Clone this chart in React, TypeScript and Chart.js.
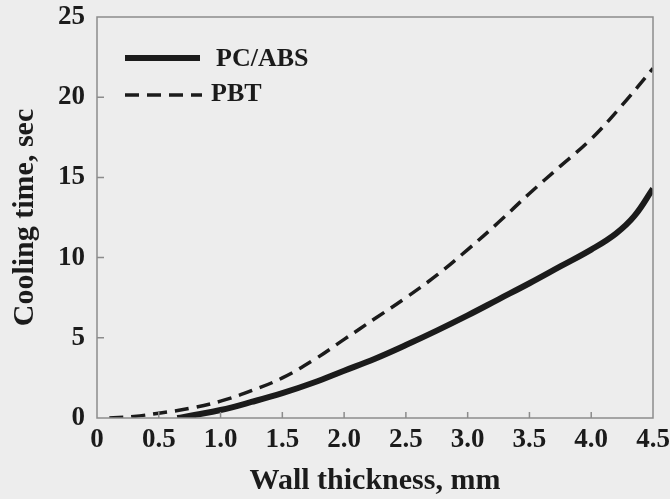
import React, { useEffect, useRef } from "react";
import { Chart, registerables } from "chart.js";

Chart.register(...registerables);

const pcAbsX = [0.65, 0.8, 1.0, 1.25, 1.5, 1.75, 2.0, 2.25, 2.5, 2.75, 3.0, 3.25, 3.5, 3.75, 4.0, 4.2, 4.35, 4.5];
const pcAbsY = [0, 0.2, 0.5, 1.0, 1.55, 2.2, 2.95, 3.7, 4.55, 5.45, 6.4, 7.4, 8.4, 9.45, 10.5, 11.5, 12.6, 14.3];

const pbtX = [0.1, 0.3, 0.5, 0.75, 1.0, 1.25, 1.5, 1.75, 2.0, 2.25, 2.5, 2.75, 3.0, 3.25, 3.5, 3.75, 4.0, 4.25, 4.5];
const pbtY = [0, 0.1, 0.3, 0.6, 1.05, 1.7, 2.5, 3.6, 4.9, 6.2, 7.5, 8.9, 10.5, 12.2, 14.0, 15.7, 17.4, 19.5, 21.8];

const seriesNames = ["PC/ABS", "PBT"];
const xTicks = [0, 0.5, 1.0, 1.5, 2.0, 2.5, 3.0, 3.5, 4.0, 4.5];
const yTicks = [0, 5, 10, 15, 20, 25];
const xTitle = "Wall thickness, mm";
const yTitle = "Cooling time, sec";

const INK = "#1b1b1b";
const FRAME = "#8c8c8c";
const BG = "#ededed";
const SERIF = "'Liberation Serif', 'Times New Roman', serif";

export default function App() {
  const ref = useRef<HTMLCanvasElement | null>(null);

  useEffect(() => {
    if (!ref.current) return;

    const framePlugin = {
      id: "frameAndLegend",
      beforeDraw(chart: any) {
        const { ctx } = chart;
        ctx.save();
        ctx.fillStyle = BG;
        ctx.fillRect(0, 0, chart.width, chart.height);
        ctx.restore();
      },
      afterDatasetsDraw(chart: any) {
        const { ctx, chartArea } = chart;
        const xs = chart.scales.x;
        const ys = chart.scales.y;
        ctx.save();
        ctx.strokeStyle = FRAME;
        ctx.lineWidth = 1.5;
        ctx.strokeRect(chartArea.left, chartArea.top, chartArea.right - chartArea.left, chartArea.bottom - chartArea.top);
        ctx.beginPath();
        xTicks.slice(1, -1).forEach((v) => {
          const px = xs.getPixelForValue(v);
          ctx.moveTo(px, chartArea.bottom);
          ctx.lineTo(px, chartArea.bottom - 6);
        });
        yTicks.slice(1, -1).forEach((v) => {
          const py = ys.getPixelForValue(v);
          ctx.moveTo(chartArea.left, py);
          ctx.lineTo(chartArea.left + 7, py);
        });
        ctx.stroke();

        const lx0 = chartArea.left + 28;
        const lx1 = chartArea.left + 103;
        const y1 = chartArea.top + 41;
        const y2 = chartArea.top + 78;
        ctx.strokeStyle = INK;
        ctx.lineCap = "butt";
        ctx.lineWidth = 6;
        ctx.beginPath();
        ctx.moveTo(lx0, y1);
        ctx.lineTo(lx1, y1);
        ctx.stroke();
        ctx.lineWidth = 3.5;
        ctx.setLineDash([14, 8]);
        ctx.beginPath();
        ctx.moveTo(lx0, y2);
        ctx.lineTo(lx1 + 2, y2);
        ctx.stroke();
        ctx.setLineDash([]);
        ctx.fillStyle = INK;
        ctx.font = `bold 26px ${SERIF}`;
        ctx.textBaseline = "middle";
        ctx.textAlign = "left";
        ctx.fillText(seriesNames[0], lx1 + 16, y1 + 1);
        ctx.fillText(seriesNames[1], lx1 + 11, y2 - 1);
        ctx.restore();
      },
    };

    const chart = new Chart(ref.current, {
      type: "line",
      data: {
        datasets: [
          {
            label: seriesNames[0],
            data: pcAbsX.map((x, i) => ({ x, y: pcAbsY[i] })),
            borderColor: INK,
            borderWidth: 6,
            pointRadius: 0,
            tension: 0.4,
            fill: false,
          },
          {
            label: seriesNames[1],
            data: pbtX.map((x, i) => ({ x, y: pbtY[i] })),
            borderColor: INK,
            borderWidth: 3.5,
            borderDash: [14, 8],
            pointRadius: 0,
            tension: 0.4,
            fill: false,
          },
        ],
      },
      options: {
        animation: false,
        responsive: false,
        layout: { padding: { top: 17, right: 17, left: 0, bottom: 0 } },
        plugins: {
          legend: { display: false },
          tooltip: { enabled: false },
        },
        scales: {
          x: {
            type: "linear",
            min: 0,
            max: 4.5,
            afterBuildTicks(scale: any) {
              scale.ticks = xTicks.map((v) => ({ value: v }));
            },
            afterFit(scale: any) {
              scale.height = 81;
              scale.paddingLeft = 0;
              scale.paddingRight = 0;
            },
            grid: { display: false, drawTicks: false },
            border: { display: false },
            ticks: {
              autoSkip: false,
              maxRotation: 0,
              padding: 6,
              color: INK,
              font: { family: SERIF, size: 27, weight: "bold" },
              callback: (v: any) => (Number(v) === 0 ? "0" : Number(v).toFixed(1)),
            },
            title: {
              display: true,
              text: xTitle,
              color: INK,
              font: { family: SERIF, size: 30, weight: "bold" },
              padding: { top: 0, bottom: 0 },
            },
          },
          y: {
            type: "linear",
            min: 0,
            max: 25,
            afterBuildTicks(scale: any) {
              scale.ticks = yTicks.map((v) => ({ value: v }));
            },
            afterFit(scale: any) {
              scale.width = 97;
              scale.paddingTop = 0;
              scale.paddingBottom = 0;
            },
            grid: { display: false, drawTicks: false },
            border: { display: false },
            ticks: {
              autoSkip: false,
              padding: 12,
              color: INK,
              font: { family: SERIF, size: 27, weight: "bold" },
              callback: (v: any) => String(v),
            },
            title: {
              display: true,
              text: yTitle,
              color: INK,
              font: { family: SERIF, size: 30, weight: "bold" },
              padding: { top: 7, bottom: 0 },
            },
          },
        },
      },
      plugins: [framePlugin],
    } as any);

    return () => chart.destroy();
  }, []);

  return (
    <div style={{ position: "absolute", left: 0, top: 0, width: 670, height: 499, background: BG }}>
      <canvas ref={ref} width={670} height={499} style={{ display: "block" }} />
    </div>
  );
}
